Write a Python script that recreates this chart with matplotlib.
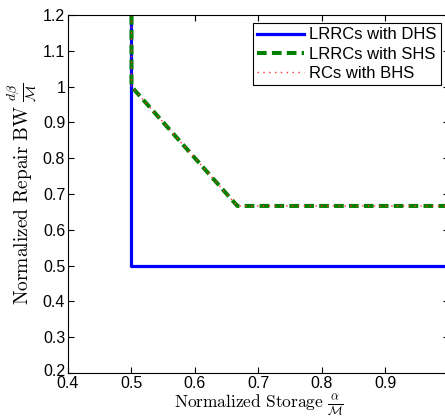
import matplotlib
matplotlib.use('Agg')
import matplotlib.pyplot as plt
import matplotlib.transforms as mtransforms
from matplotlib.ticker import FuncFormatter

# curve data
dhs_x = [0.5, 0.5, 1.0]
dhs_y = [1.2, 0.5, 0.5]
shs_x = [0.5, 0.5, 2 / 3, 1.0]
shs_y = [1.2, 1.0, 2 / 3, 2 / 3]
bhs_x = [0.5, 0.5, 2 / 3, 1.0]
bhs_y = [1.2, 1.0, 2 / 3, 2 / 3]

xticks = [0.4, 0.5, 0.6, 0.7, 0.8, 0.9]
yticks = [0.2, 0.3, 0.4, 0.5, 0.6, 0.7, 0.8, 0.9, 1.0, 1.1, 1.2]

plt.rcParams['mathtext.fontset'] = 'cm'

fig = plt.figure(figsize=(4.45, 4.17), dpi=100)
ax = fig.add_axes([68 / 445, 1 - 373 / 417, (449 - 68) / 445, (373 - 15) / 417])

ax.plot(dhs_x, dhs_y, color='#0000ff', lw=2.3, label='LRRCs with DHS')
ax.plot(shs_x, shs_y, color='#008000', lw=2.9, ls=(0, (2.4, 1.3)), label='LRRCs with SHS')
ax.plot(bhs_x, bhs_y, color='#ff3030', lw=1.0, ls=(0, (1, 3.2)), label='RCs with BHS')

ax.set_xlim(0.4, 1.0)
ax.set_ylim(0.2, 1.2)
ax.set_xticks(xticks)
ax.set_yticks(yticks)
fmt = FuncFormatter(lambda v, p: '%g' % round(v, 2))
ax.xaxis.set_major_formatter(fmt)
ax.yaxis.set_major_formatter(fmt)
ax.tick_params(direction='in', top=True, right=True, length=4, labelsize=11.5)
ax.tick_params(axis='x', pad=2.5)
ax.tick_params(axis='y', pad=2)
for lab in ax.get_xticklabels() + ax.get_yticklabels():
    lab.set_fontfamily('Liberation Sans')

# nudge the bottom y label up a little so it clears the 0.4 label
lab0 = ax.yaxis.get_major_ticks()[0].label1
lab0.set_transform(lab0.get_transform() +
                   mtransforms.ScaledTranslation(0, 2.5 / 72, fig.dpi_scale_trans))

ax.set_xlabel(r'$\mathrm{Normalized\ Storage}\ \frac{\alpha}{\mathcal{M}}$',
              fontsize=12.5, labelpad=0.5)
ax.set_ylabel(r'$\mathrm{Normalized\ Repair\ BW}\ \frac{d\beta}{\mathcal{M}}$',
              fontsize=14, labelpad=3)

leg = ax.legend(loc='upper right', fancybox=False, edgecolor='black',
                framealpha=1, prop={'family': 'Liberation Sans', 'size': 12},
                borderaxespad=0.5, handlelength=2.8, labelspacing=0.25,
                handletextpad=0.3, borderpad=0.25)
leg.get_frame().set_linewidth(0.8)

fig.savefig('out.png', dpi=100)
